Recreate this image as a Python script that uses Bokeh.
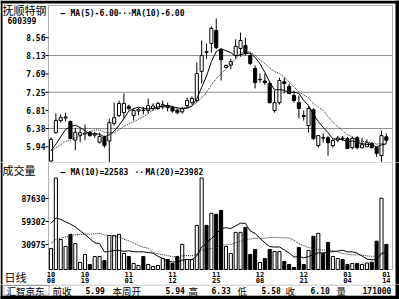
import pandas as pd
from bokeh.plotting import figure
from bokeh.layouts import column
from bokeh.models import Range1d, Label, BoxAnnotation, ColumnDataSource
from bokeh.core.properties import value
from bokeh.embed import file_html
from bokeh.resources import INLINE

# ---------------- data ----------------
open_ = [5.60, 6.28, 6.57, 6.63, 6.55, 6.10, 6.22, 6.25, 6.29, 6.22,
         6.05, 6.17, 6.08, 6.50, 6.69, 6.76, 6.91, 6.69, 6.80, 6.82,
         6.81, 6.86, 6.86, 6.90, 6.93, 6.88, 6.82, 6.78, 6.93, 7.00,
         7.05, 7.75, 8.22, 8.42, 8.73, 8.27, 7.85, 7.90, 8.13, 8.30,
         8.37, 8.13, 7.82, 7.55, 7.52, 7.46, 6.81, 7.00, 7.50, 7.39,
         7.17, 7.00, 6.69, 6.45, 6.83, 5.97, 6.16, 6.16, 5.97, 6.10,
         6.15, 6.14, 5.92, 6.16, 5.92, 5.94, 6.02, 5.92, 5.73, 6.18]
high = [6.17, 6.74, 6.72, 6.76, 6.57, 6.40, 6.38, 6.48, 6.32, 6.30,
        6.28, 6.21, 6.62, 7.00, 7.05, 7.22, 6.95, 6.86, 6.88, 6.90,
        7.10, 6.98, 7.02, 7.05, 7.00, 6.92, 6.85, 6.90, 7.12, 7.15,
        7.96, 8.49, 8.42, 8.83, 9.02, 8.30, 7.92, 8.05, 8.52, 8.68,
        8.56, 8.20, 7.89, 7.70, 7.70, 7.52, 7.29, 7.60, 7.60, 7.45,
        7.29, 7.17, 6.81, 6.93, 6.86, 6.21, 6.26, 6.20, 6.16, 6.20,
        6.20, 6.18, 6.18, 6.20, 6.16, 6.12, 6.05, 5.95, 6.33, 6.26]
low = [5.55, 6.26, 6.52, 6.55, 6.12, 5.86, 6.05, 6.10, 6.18, 6.16,
       6.02, 5.92, 5.54, 6.45, 6.65, 6.62, 6.82, 6.57, 6.70, 6.72,
       6.74, 6.80, 6.83, 6.84, 6.79, 6.76, 6.72, 6.74, 6.86, 6.95,
       7.00, 7.46, 8.05, 8.20, 8.28, 7.53, 7.82, 7.80, 8.05, 8.10,
       8.13, 7.90, 7.34, 7.48, 7.43, 6.98, 6.76, 6.95, 7.22, 7.20,
       7.00, 6.62, 6.57, 6.28, 6.10, 5.92, 6.04, 5.73, 5.92, 6.05,
       6.08, 5.90, 5.88, 5.88, 5.90, 5.95, 5.90, 5.70, 5.58, 6.02]
close = [6.12, 6.57, 6.64, 6.66, 6.14, 6.29, 6.28, 6.27, 6.21, 6.25,
         6.19, 5.97, 6.52, 6.64, 6.98, 6.98, 6.86, 6.81, 6.84, 6.81,
         6.93, 6.92, 6.98, 6.95, 6.88, 6.80, 6.76, 6.86, 7.05, 7.10,
         7.70, 8.13, 8.20, 8.78, 8.32, 8.03, 7.89, 7.98, 8.35, 8.49,
         8.18, 7.94, 7.48, 7.56, 7.48, 7.00, 7.00, 7.53, 7.46, 7.22,
         7.05, 6.86, 6.67, 6.86, 6.14, 6.21, 6.15, 6.04, 6.09, 6.15,
         6.13, 5.90, 6.14, 5.92, 5.99, 6.04, 5.92, 5.78, 6.21, 6.10]
volume = [26000, 113000, 37000, 28500, 43400, 32000, 8700, 18600, 6200, 16000,
          16000, 11000, 42000, 42000, 43400, 19800, 16000, 7400, 5000, 16000,
          6200, 3700, 5000, 13600, 12400, 7400, 16000, 31000, 12400, 12400,
          54500, 113000, 54500, 69400, 68200, 73000, 28500, 19800, 45900, 45900,
          52000, 18600, 24800, 8700, 13600, 24800, 22300, 22300, 9900, 6200,
          2500, 27300, 6200, 23600, 41000, 44600, 19800, 33500, 16100, 13600,
          12400, 6200, 7400, 7400, 6200, 8000, 9000, 35000, 88000, 31000]
# closes / volumes before the first visible day (estimated from where the MA lines start)
prior_close = [5.90, 5.88, 5.86, 5.84, 5.77, 5.80, 5.76, 5.77, 5.80]
prior_volume = [6500, 7200, 6800, 7500, 6900, 7100, 6600, 7300, 7000, 7100,
                48000, 52000, 61000, 70000, 66000, 58000, 63000, 60000, 66000]

price_ticks = [5.94, 6.38, 6.81, 7.25, 7.69, 8.13, 8.56]
grid_prices = [6.38, 7.25, 8.13]
vol_ticks = [30975, 59302, 87630]
date_ticks = [0, 7, 16, 25, 34, 43, 52, 61, 69]
date_months = ["10", "10", "11", "11", "11", "12", "12", "01", "01"]
date_days = ["08", "19", "01", "12", "25", "08", "21", "04", "14"]
stock_name = "抚顺特钢"
stock_code = "600399"
price_ma_texts = ["MA(5)-6.00", "MA(10)-6.00"]
vol_ma_texts = ["MA(10)=22583", "MA(20)=23982"]
status_box_text = "汇智京东"
status_labels = ["前收", "本周开", "高", "低", "收", "量"]
status_values = ["5.99", "5.94", "6.33", "5.58", "6.10", "171000"]

# ---------------- derived series ----------------
n = len(close)
xs = list(range(n))
cs = pd.Series(prior_close + close)
ma5 = cs.rolling(5).mean().tolist()[len(prior_close):]
ma10 = cs.rolling(10).mean().tolist()[len(prior_close):]
vs = pd.Series(prior_volume + volume, dtype=float)
vma10 = vs.rolling(10).mean().tolist()[len(prior_volume):]
vma20 = vs.rolling(20).mean().tolist()[len(prior_volume):]
fill = ["white" if c >= o else "black" for o, c in zip(open_, close)]
src = ColumnDataSource(dict(
    x=xs, high=high, low=low,
    top=[max(o, c) for o, c in zip(open_, close)],
    bottom=[min(o, c) for o, c in zip(open_, close)],
    vol=volume, fill=fill, ma5=ma5, ma10=ma10, vma10=vma10, vma20=vma20))

# ---------------- layout constants (pixels) ----------------
MONO = "DejaVu Sans Mono"
CJK = "Noto Sans CJK SC"
W = 399
H_PRICE, H_VOL, H_STAT = 162, 122, 15
BAR0_PX, BAR_PX = 50.5, 4.86          # x pixel of first bar, pixels per bar
AREA_L, AREA_R = 48, 392              # plot-area borders
P_REF, P_REF_PX, P_PER_PX = 6.38, 128.0, 1 / 41.7
V_ZERO_PX, V_PER_PX = 107.0, 1235.0


def px_x(px):
    return (px - BAR0_PX) / BAR_PX


def py_p(py):
    return P_REF + (P_REF_PX - py) * P_PER_PX


def py_v(py):
    return (V_ZERO_PX - py) * V_PER_PX


def box(p, l, r, t, b, fill=None, line=None, lw=1):
    p.add_layout(BoxAnnotation(left=l, right=r, top=t, bottom=b,
                               fill_color=fill or "white",
                               fill_alpha=1.0 if fill else 0.0,
                               line_color=line, line_width=lw,
                               level="overlay"))


def lab(p, x, y, text, font=MONO, size="8px", bold=True, align="left"):
    p.add_layout(Label(x=x, y=y, x_units="canvas", y_units="canvas", text=text,
                       text_font=font, text_font_size=size,
                       text_font_style="bold" if bold else "normal",
                       text_align=align, text_baseline="middle",
                       text_color="black"))


def base_fig(h, xr, yr):
    p = figure(width=W, height=h, x_range=xr, y_range=yr,
               output_backend="svg", toolbar_location=None, min_border=0)
    p.axis.visible = False
    p.grid.visible = False
    p.outline_line_color = None
    p.background_fill_color = "white"
    p.border_fill_color = "white"
    return p


XR = Range1d(px_x(0), px_x(W))

# ---------------- price panel ----------------
pp = base_fig(H_PRICE, XR, Range1d(py_p(H_PRICE), py_p(0)))
xl, xr_ = px_x(AREA_L), px_x(AREA_R)
pp.segment(x0=[xl] * len(grid_prices), y0=grid_prices,
           x1=[xr_] * len(grid_prices), y1=grid_prices,
           line_color="#222222", line_width=1, line_dash="1 1")
pp.segment(x0="x", y0="low", x1="x", y1="high", source=src,
           line_color="black", line_width=1)
pp.vbar(x="x", width=0.64, top="top", bottom="bottom", source=src,
        fill_color="fill", line_color="black", line_width=1)
pp.line(x="x", y="ma5", source=src, line_color="black", line_width=1)
pp.line(x="x", y="ma10", source=src, line_color="#222222", line_width=1,
        line_dash="1 1")
# y tick marks and labels
pp.segment(x0=[px_x(45)] * len(price_ticks), y0=price_ticks,
           x1=[xl] * len(price_ticks), y1=price_ticks, line_color="black")
pp.text(x=[px_x(45)] * len(price_ticks), y=price_ticks,
        text=["%.2f" % t for t in price_ticks],
        text_font=value(MONO), text_font_size=value("8px"),
        text_font_style="bold", text_align="right", text_baseline="middle",
        text_color="black")
box(pp, xl, xr_, py_p(5), py_p(H_PRICE + 2), line="black")
box(pp, px_x(0), px_x(2), py_p(0), py_p(H_PRICE + 2), fill="black")
box(pp, px_x(0), px_x(W), py_p(0), py_p(3), fill="black")
box(pp, px_x(395), px_x(W), py_p(0), py_p(H_PRICE + 2), fill="black")
lab(pp, 2, 9, stock_name, font=CJK, size="11px", bold=False)
lab(pp, 7, 20, stock_code, size="8px")
lab(pp, 60, 13, "—")
lab(pp, 70, 13, price_ma_texts[0])
lab(pp, 117, 13, "···")
lab(pp, 131, 13, price_ma_texts[1])

# ---------------- volume panel ----------------
pv = base_fig(H_VOL, XR, Range1d(py_v(H_VOL), py_v(0)))
pv.vbar(x="x", width=0.64, top="vol", bottom=0, source=src,
        fill_color="fill", line_color="black", line_width=1)
pv.line(x="x", y="vma10", source=src, line_color="black", line_width=1)
pv.line(x="x", y="vma20", source=src, line_color="#222222", line_width=1,
        line_dash="1 1")
pv.segment(x0=[px_x(45)] * len(vol_ticks), y0=vol_ticks,
           x1=[xl] * len(vol_ticks), y1=vol_ticks, line_color="black")
pv.text(x=[px_x(45)] * len(vol_ticks), y=vol_ticks,
        text=[str(t) for t in vol_ticks],
        text_font=value(MONO), text_font_size=value("8px"),
        text_font_style="bold", text_align="right", text_baseline="middle",
        text_color="black")
# date labels (month over day) under the volume bars
pv.text(x=date_ticks, y=[py_v(111)] * len(date_ticks), text=date_months,
        text_font=value(MONO), text_font_size=value("7px"),
        text_font_style="bold", text_align="center", text_baseline="middle",
        text_color="black")
pv.text(x=date_ticks, y=[py_v(117)] * len(date_ticks), text=date_days,
        text_font=value(MONO), text_font_size=value("7px"),
        text_font_style="bold", text_align="center", text_baseline="middle",
        text_color="black")
box(pv, xl, xr_, py_v(0), py_v(V_ZERO_PX), line="black")
box(pv, px_x(0), px_x(2), py_v(-2), py_v(H_VOL + 2), fill="black")
box(pv, px_x(395), px_x(W), py_v(-2), py_v(H_VOL + 2), fill="black")
lab(pv, 2, 7, "成交量", font=CJK, size="11px", bold=False)
lab(pv, 60, 10, "—")
lab(pv, 70, 10, vol_ma_texts[0])
lab(pv, 134, 10, "···")
lab(pv, 145, 10, vol_ma_texts[1])
lab(pv, 4, 114, "日线", font=CJK, size="11px", bold=False)

# ---------------- status bar ----------------
ps = base_fig(H_STAT, Range1d(0, W), Range1d(H_STAT, 0))
box(ps, 0, W, 0.5, 11, line="black")
box(ps, 3.5, 48.5, 1, 10.5, line="black")
box(ps, 0, 2, -1, H_STAT + 1, fill="black")
box(ps, 395, W + 1, -1, H_STAT + 1, fill="black")
box(ps, -1, W + 1, 11.5, H_STAT + 1, fill="black")
lab(ps, 6, 6, status_box_text, font=CJK, size="9.5px", bold=False)
lab_x = [52, 112, 188, 237, 285, 336]
val_x = [85, 165, 211, 261, 310, 362]
for t, xpos in zip(status_labels, lab_x):
    lab(ps, xpos, 6, t, font=CJK, size="9.5px", bold=False)
for t, xpos in zip(status_values, val_x):
    lab(ps, xpos, 6, t)

layout = column(pp, pv, ps, spacing=0)
open("out.html", "w").write(file_html(layout, INLINE))
